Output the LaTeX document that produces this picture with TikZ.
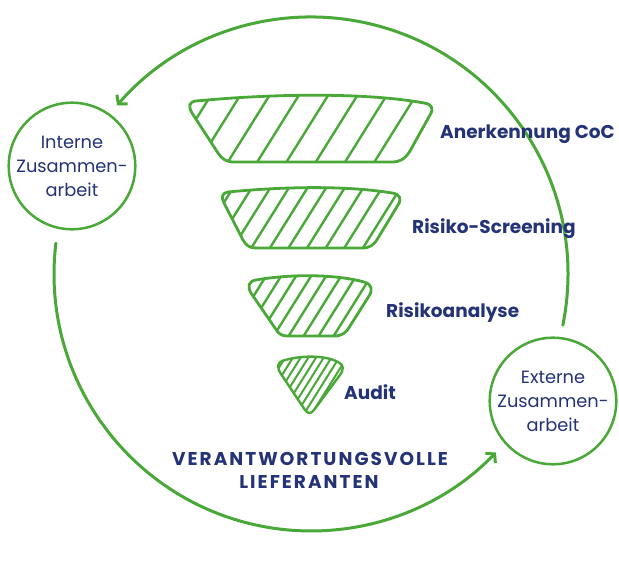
\documentclass[tikz,border=0pt]{standalone}
\usepackage{fontspec}
\setmainfont{Poppins}
\usetikzlibrary{arrows.meta}
\definecolor{lgreen}{RGB}{74,168,56}
\definecolor{navy}{RGB}{36,50,118}
\begin{document}
\begin{tikzpicture}[x=1pt,y=-1pt,
  bigarc/.style={draw=lgreen,line width=3pt,line cap=round},
  barb/.style={-{Straight Barb[length=6pt,width=14pt,line width=3pt]}},
  smallc/.style={circle,draw=lgreen,line width=2.5pt,inner sep=0pt,align=center,
     text=navy,font=\fontsize{17.8}{24}\selectfont},
  funnel/.style={draw=lgreen,line width=2.8pt,line join=round},
  hatchline/.style={draw=lgreen,line width=2.4pt,line cap=round},
  lab/.style={text=navy,inner sep=0pt,font=\fontsize{18.5}{20}\selectfont\bfseries},
  ttl/.style={text=navy,inner sep=0pt,font=\fontsize{18.5}{20}\selectfont\bfseries\addfontfeatures{LetterSpace=11}}]
\useasboundingbox (0,0) rectangle (619,561);

% big circular arrows
\coordinate (ctr) at (311,274);
\coordinate (aR) at (562.8,325.2);
\coordinate (aL) at (55.9,243.1);
\draw[bigarc,barb] (aR) arc[start angle=11.5,end angle=-139,radius=257];
\draw[bigarc,barb] (aL) arc[start angle=186.9,end angle=44,radius=257];

% small circles
\node[smallc,minimum size=120pt] (int) at (72,166) {Interne\\Zusammen-\\arbeit};
\node[smallc,minimum size=118pt] (ext) at (553,401) {Externe\\Zusammen-\\arbeit};

% funnel 1
\draw[funnel,path picture={
  \foreach \k in {-1,...,9} \draw[hatchline] ({188+29.3*\k-45},{132+72}) -- ++(90,-144);}]
 (196,101) .. controls (280,93) and (370,93) .. (424,103)
 .. controls (432,104) and (434,109) .. (430,115)
 -- (410,151)
 .. controls (405,159) and (400,162) .. (392,162)
 -- (234,162)
 .. controls (226,162) and (222,159) .. (218,153)
 -- (192,113)
 .. controls (188,106) and (189,102) .. (196,101) -- cycle;

% funnel 2
\draw[funnel,path picture={
  \foreach \k in {-2,...,11} \draw[hatchline] ({213+18.6*\k-40},{220+64}) -- ++(80,-128);}]
 (228,192) .. controls (290,186) and (350,186) .. (392,193)
 .. controls (400,194) and (402,199) .. (398,205)
 -- (378,238)
 .. controls (374,245) and (370,248) .. (362,248)
 -- (256,248)
 .. controls (249,248) and (246,245) .. (243,240)
 -- (224,203)
 .. controls (221,197) and (222,193) .. (228,192) -- cycle;

% funnel 3
\draw[funnel,path picture={
  \foreach \k in {-2,...,10} \draw[hatchline] ({248+15*\k-35},{305+56}) -- ++(70,-112);}]
 (256,280) .. controls (290,274) and (335,274) .. (364,282)
 .. controls (372,284) and (373,290) .. (369,296)
 -- (350,326)
 .. controls (346,333) and (342,336) .. (334,336)
 -- (287,336)
 .. controls (281,336) and (278,333) .. (275,328)
 -- (251,293)
 .. controls (247,286) and (249,281) .. (256,280) -- cycle;

% funnel 4
\draw[funnel,line width=2.4pt,path picture={
  \foreach \k in {-3,...,12} \draw[hatchline,line width=2pt] ({270+7.7*\k-30},{382+48}) -- ++(60,-96);}]
 (282,361) .. controls (300,355) and (325,355) .. (338,362)
 .. controls (344,365) and (344,369) .. (340,375)
 -- (314,410)
 .. controls (311,414) and (308,414) .. (305,410)
 -- (281,374)
 .. controls (277,368) and (277,363) .. (282,361) -- cycle;

% labels
\node[lab,anchor=base west] (l1) at (440,139) {Anerkennung CoC};
\node[lab,anchor=base west] (l2) at (412,234) {Risiko-Screening};
\node[lab,anchor=base west] (l3) at (386,318) {Risikoanalyse};
\node[lab,anchor=base west] (l4) at (344,400) {Audit};

\node[ttl,anchor=base] (t1) at (310,465) {VERANTWORTUNGSVOLLE};
\node[ttl,anchor=base] (t2) at (309,488) {LIEFERANTEN};
\end{tikzpicture}
\end{document}
